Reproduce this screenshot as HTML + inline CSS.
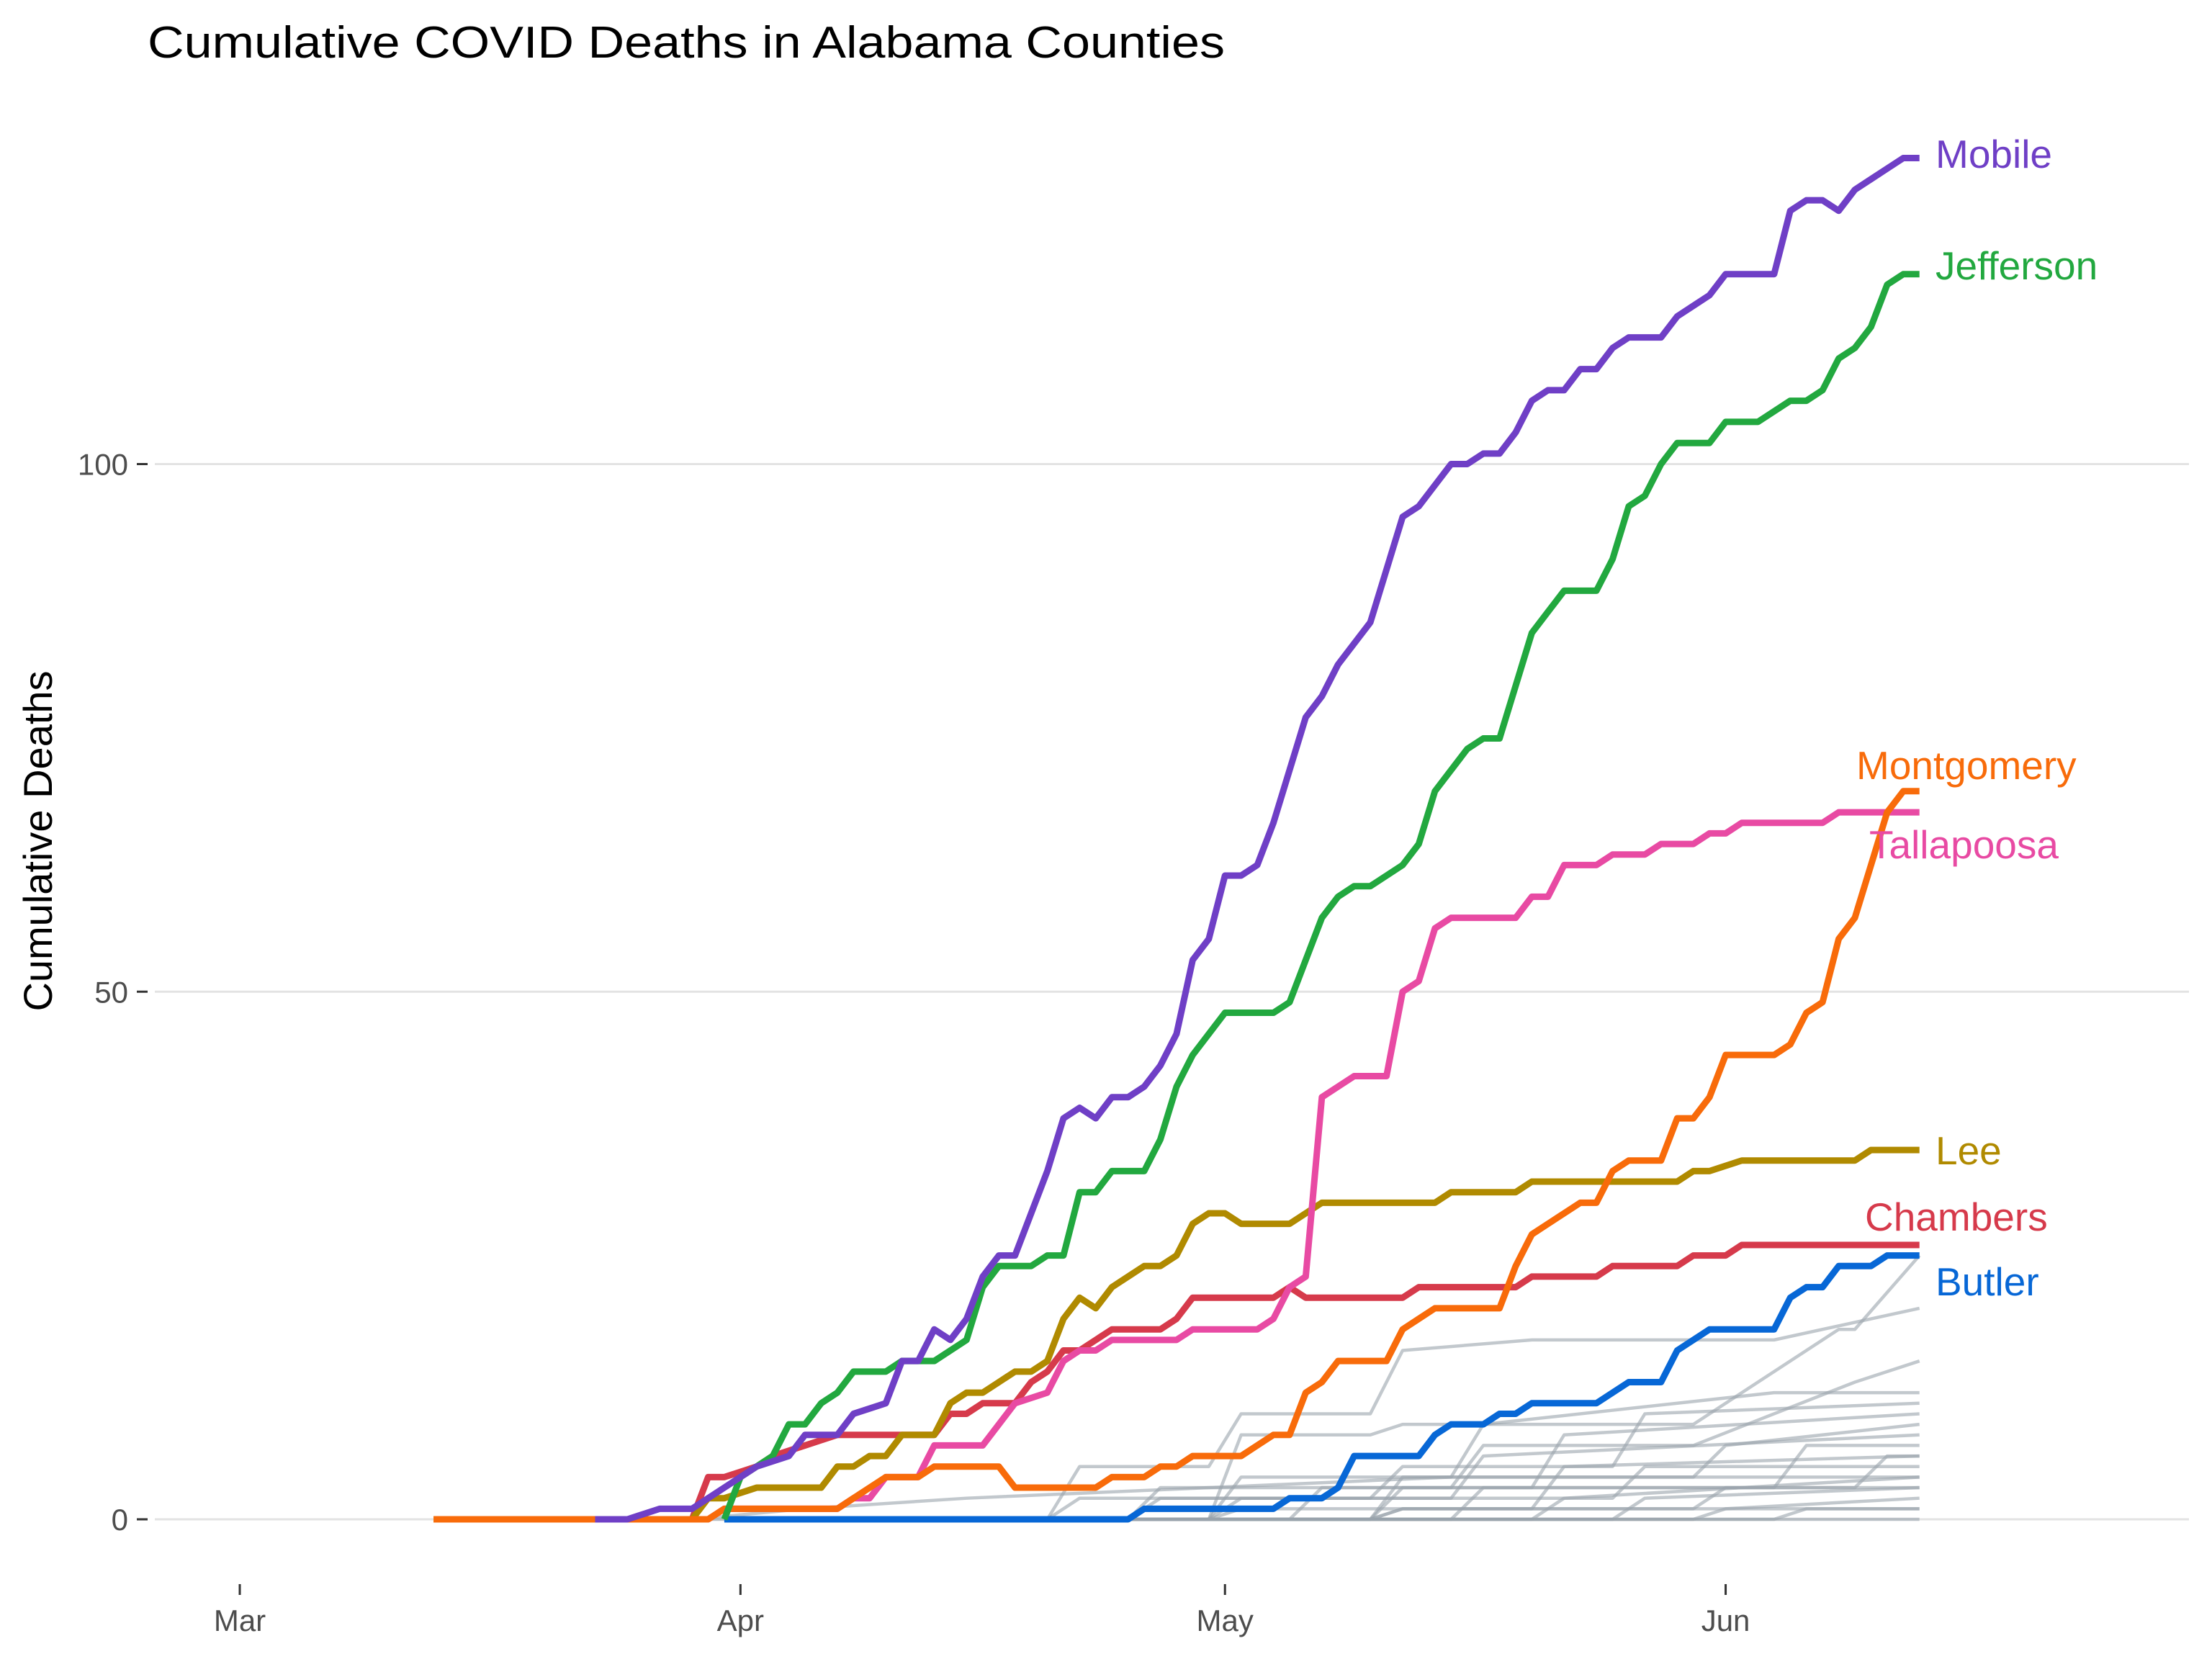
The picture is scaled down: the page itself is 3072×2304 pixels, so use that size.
<!DOCTYPE html>
<html><head><meta charset="utf-8"><style>
html,body{margin:0;padding:0;background:#fff;}
svg{display:block;font-family:"Liberation Sans",sans-serif;}
</style></head><body>
<svg id="chart" width="3072" height="2304" viewBox="0 0 3072 2304" xmlns="http://www.w3.org/2000/svg">
<rect width="3072" height="2304" fill="#fff"/>
<text x="205" y="80" font-size="62" fill="#000" textLength="1496" lengthAdjust="spacingAndGlyphs">Cumulative COVID Deaths in Alabama Counties</text>
<text transform="translate(72,1168) rotate(-90)" text-anchor="middle" font-size="56" fill="#000">Cumulative Deaths</text>
<g id="grid"></g><g id="gray"></g><g id="colored"></g><g id="labels"></g>
</svg>
<script>
const yTicks = [0, 50, 100];
const monthLabels = ["Mar", "Apr", "May", "Jun"];
const monthDays = [0, 31, 61, 92];

const grayDays = [
 [20,60,62,70,72,80,90,99,100,104],[30,50,52,60,62,70,72,80,95,104],[30,55,57,75,77,90,100,104],[40,60,62,75,77,95,104],
 [35,55,57,70,72,85,87,104],[40,65,67,80,82,104],[45,70,72,90,92,104],[30,50,52,75,77,104],[50,70,72,95,97,104],[40,60,62,80,82,104],
 [50,75,77,100,102,104],[35,60,62,85,87,104],[55,80,82,104],[45,70,72,90,92,104],[60,85,87,104],[50,90,92,104],[65,95,97,104],
 [70,72,104],[30,104],[28,35,45,60,75,104]
];
const grayVals = [
 [0,0,8,8,9,9,9,18,18,25],[0,0,5,5,10,10,16,17,17,20],[0,0,3,3,7,7,13,15],[0,0,4,4,9,12,12],
 [0,0,2,2,5,5,10,11],[0,0,3,3,8,10],[0,0,4,4,7,9],[0,0,2,2,6,8],[0,0,3,3,7,7],[0,0,1,1,5,6],
 [0,0,3,3,6,6],[0,0,2,2,5,5],[0,0,2,4],[0,0,1,1,3,3],[0,0,2,3],[0,0,1,2],[0,0,1,1],
 [0,1,1],[0,0],[0,1,2,3,4,4]
];

const countyNames = ["Butler","Chambers","Lee","Tallapoosa","Montgomery","Jefferson","Mobile"];
const countyColors = ["#0767d6","#d63a4b","#b08a00","#e84aa3","#f86b0a","#22a83f","#6f3fc6"];
const mobileDays = [22,24,26,28,29,30,32,34,35,37,38,40,41,42,43,44,45,46,47,48,49,50,51,52,53,54,55,56,57,58,59,60,61,62,63,64,65,66,67,68,69,70,71,72,73,74,75,76,77,78,79,80,81,82,83,84,85,86,88,89,90,91,92,95,96,97,98,99,100,101,102,103,104];
const mobileVals = [0,0,1,1,2,3,5,6,8,8,10,11,15,15,18,17,19,23,25,25,29,33,38,39,38,40,40,41,43,46,53,55,61,61,62,66,71,76,78,81,83,85,90,95,96,98,100,100,101,101,103,106,107,107,109,109,111,112,112,114,115,116,118,118,124,125,125,124,126,127,128,129,129];
const jeffDays = [30,31,33,34,35,36,37,38,40,41,43,45,46,47,49,50,51,52,53,54,56,57,58,59,60,61,64,65,66,67,68,69,70,72,73,74,75,76,77,78,79,80,81,82,84,85,86,87,88,89,91,92,94,96,97,98,99,100,101,102,103,104];
const jeffVals = [0,4,6,9,9,11,12,14,14,15,15,17,22,24,24,25,25,31,31,33,33,36,41,44,46,48,48,49,53,57,59,60,60,62,64,69,71,73,74,74,79,84,86,88,88,91,96,97,100,102,102,104,104,106,106,107,110,111,113,117,118,118];
const montDays = [12,29,30,37,38,40,42,43,47,48,53,54,56,57,58,59,62,63,64,65,66,67,68,71,72,73,74,78,79,80,81,82,83,84,85,86,88,89,90,91,92,95,96,97,98,99,100,101,102,103,104];
const montVals = [0,0,1,1,2,4,4,5,5,3,3,4,4,5,5,6,6,7,8,8,12,13,15,15,18,19,20,20,24,27,28,29,30,30,33,34,34,38,38,40,44,44,45,48,49,55,57,62,67,69,69];
const tallDays = [22,29,30,37,38,39,40,42,43,46,47,48,50,51,52,53,54,58,59,63,64,65,66,67,68,69,71,72,73,74,75,79,80,81,82,84,85,87,88,90,91,92,93,98,99,104];
const tallVals = [0,0,1,1,2,2,4,4,7,7,9,11,12,15,16,16,17,17,18,18,19,22,23,40,41,42,42,50,51,56,57,57,59,59,62,62,63,63,64,64,65,65,66,66,67,67];
const leeDays = [12,28,29,30,32,36,37,38,39,40,41,43,44,45,46,47,48,49,50,51,52,53,54,55,56,57,58,59,60,61,62,65,66,67,74,75,79,80,89,90,91,93,100,101,104];
const leeVals = [0,0,2,2,3,3,5,5,6,6,8,8,11,12,12,13,14,14,15,19,21,20,22,23,24,24,25,28,29,29,28,28,29,30,30,31,31,32,32,33,33,34,34,35,35];
const chamDays = [24,28,29,30,32,33,35,37,43,44,45,46,48,49,50,51,52,53,54,57,58,59,64,65,66,72,73,79,80,84,85,89,90,92,93,104];
const chamVals = [0,0,4,4,5,6,7,8,8,10,10,11,11,13,14,16,16,17,18,18,19,21,21,22,21,21,22,22,23,23,24,24,25,25,26,26];
const butlDays = [30,55,56,64,65,67,68,69,73,74,75,77,78,79,80,84,85,86,88,89,91,95,96,97,98,99,101,102,104];
const butlVals = [0,0,1,1,2,2,3,6,6,8,9,9,10,10,11,11,12,13,13,16,18,18,21,22,22,24,24,25,25];

const countyDays = [butlDays, chamDays, leeDays, tallDays, montDays, jeffDays, mobileDays];
const countyVals = [butlVals, chamVals, leeVals, tallVals, montVals, jeffVals, mobileVals];
const labelX = [2688, 2590, 2688, 2596, 2578, 2688, 2688];
const labelY = [1799, 1709, 1617, 1192, 1082, 388, 233];

const NS = "http://www.w3.org/2000/svg";
function X(d){ return 333 + d*22.43; }
function Y(v){ return 2110 - v*14.655; }
function mk(tag, attrs, parent){ const e=document.createElementNS(NS,tag); for(const k in attrs) e.setAttribute(k,attrs[k]); parent.appendChild(e); return e; }

const grid = document.getElementById('grid');
yTicks.forEach(t=>{
  const l = mk('line',{x1:215,x2:3040,y1:Y(t),y2:Y(t),stroke:'#e3e3e3','stroke-width':3},grid);
  
  
  const tk = mk('line',{x1:190,x2:205,y1:Y(t),y2:Y(t),stroke:'#333','stroke-width':3},grid);
  
  
  const tx = mk('text',{x:178,y:Y(t)+15,'text-anchor':'end','font-size':42,fill:'#4d4d4d'},grid);
  tx.textContent = t;
  
  
});
monthLabels.forEach((m,i)=>{
  const x = X(monthDays[i]);
  const tk = mk('line',{x1:x,x2:x,y1:2200,y2:2215,stroke:'#333','stroke-width':3},grid);
  
  
  const tx = mk('text',{x:x,y:2265,'text-anchor':'middle','font-size':42,fill:'#4d4d4d'},grid);
  tx.textContent = m;
  
  
});

const gray = document.getElementById('gray');
grayDays.forEach((ds,i)=>{
  const pts = ds.map((d,j)=>X(d)+','+Y(grayVals[i][j])).join(' ');
  const p = mk('polyline',{points:pts,fill:'none',stroke:'#9aa3ab','stroke-opacity':0.6,'stroke-width':4.5,'stroke-linejoin':'round'},gray);
  
  
});

const colored = document.getElementById('colored');
const labels = document.getElementById('labels');
countyNames.forEach((n,i)=>{
  const pts = countyDays[i].map((d,j)=>X(d)+','+Y(countyVals[i][j])).join(' ');
  const p = mk('polyline',{points:pts,fill:'none',stroke:countyColors[i],'stroke-width':9,'stroke-linejoin':'round'},colored);
  
  
  const t = mk('text',{x:labelX[i],y:labelY[i],'font-size':55,fill:countyColors[i]},labels);
  t.textContent = n;
  
  
});
</script>
</body></html>
